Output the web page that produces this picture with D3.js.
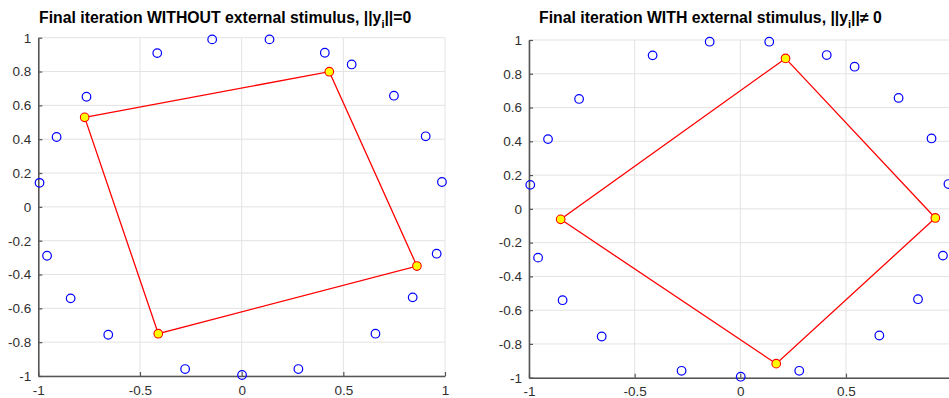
<!DOCTYPE html>
<html>
<head>
<meta charset="utf-8">
<script src="https://cdn.jsdelivr.net/npm/d3@7"></script>
<style>
  body { margin: 0; background: #fff; }
  svg { display: block; font-family: "Liberation Sans", Arial, Helvetica, sans-serif; }
</style>
</head>
<body>
<div id="chart"></div>
<script>
// oscillator positions on the unit circle (same in both panels)
const circleX = [-0.994, -0.910, -0.763, -0.415, -0.145, 0.137, 0.409, 0.541, 0.749, 0.905,
                 0.985, 0.959, 0.841, 0.658, 0.279, 0.002, -0.278, -0.656, -0.841, -0.957];
const circleY = [0.142, 0.413, 0.651, 0.909, 0.990, 0.990, 0.911, 0.842, 0.657, 0.417,
                 0.147, -0.277, -0.535, -0.750, -0.959, -0.994, -0.959, -0.756, -0.541, -0.289];

// final iteration quadrilaterals
const leftPolyX = [-0.772, 0.431, 0.862, -0.410];
const leftPolyY = [0.529, 0.799, -0.350, -0.750];
const rightPolyX = [0.214, 0.923, 0.170, -0.850];
const rightPolyY = [0.891, -0.054, -0.917, -0.062];

const xTicks = [-1, -0.5, 0, 0.5, 1];
const yTicks = [-1, -0.8, -0.6, -0.4, -0.2, 0, 0.2, 0.4, 0.6, 0.8, 1];

const W = 949, H = 398;
const svg = d3.select('#chart').append('svg').attr('width', W).attr('height', H);

const panels = [
  { x0: 38.3, x1: 445, y0: 376, y1: 37.7, titleX: 39, title: 'Final iteration WITHOUT external stimulus, ||y', tail: '||=0',
    px: leftPolyX, py: leftPolyY },
  { x0: 529, x1: 951.6, y0: 377.7, y1: 40, titleX: 539, title: 'Final iteration WITH external stimulus, ||y', tail: '||\u2260 0',
    px: rightPolyX, py: rightPolyY }
];

const fmt = d => d === 0 ? '0' : String(d);

panels.forEach(p => {
  const x = d3.scaleLinear().domain([-1, 1]).range([p.x0, p.x1]);
  const y = d3.scaleLinear().domain([-1, 1]).range([p.y0, p.y1]);
  const g = svg.append('g');

  // grid
  g.selectAll('.gx').data(xTicks).enter().append('line')
    .attr('x1', d => x(d)).attr('x2', d => x(d))
    .attr('y1', p.y0).attr('y2', p.y1)
    .attr('stroke', '#e3e3e3').attr('stroke-width', 1);
  g.selectAll('.gy').data(yTicks).enter().append('line')
    .attr('x1', p.x0).attr('x2', p.x1)
    .attr('y1', d => y(d)).attr('y2', d => y(d))
    .attr('stroke', '#e3e3e3').attr('stroke-width', 1);

  // axes with inward ticks
  const xAxis = d3.axisBottom(x).tickValues(xTicks).tickFormat(fmt).tickSizeInner(-4).tickSizeOuter(0).tickPadding(8.5);
  const yAxis = d3.axisLeft(y).tickValues(yTicks).tickFormat(fmt).tickSizeInner(-4).tickSizeOuter(0).tickPadding(7);

  const ax = g.append('g').attr('transform', 'translate(0,' + p.y0 + ')').call(xAxis);
  const ay = g.append('g').attr('transform', 'translate(' + p.x0 + ',0)').call(yAxis);
  [ax, ay].forEach(a => {
    a.select('.domain').attr('stroke', '#555').attr('stroke-width', 1.6);
    a.selectAll('.tick line').attr('stroke', '#555').attr('stroke-width', 1.2);
    a.selectAll('.tick text').attr('fill', '#303030').style('font-size', '13.5px')
      .style('font-family', '"Liberation Sans", Arial, sans-serif');
  });
  ax.selectAll('.tick text').attr('dy', '0.75em');

  // blue circles
  g.selectAll('.pt').data(circleX).enter().append('circle')
    .attr('cx', d => x(d)).attr('cy', (d, i) => y(circleY[i]))
    .attr('r', 4.3).attr('fill', 'none').attr('stroke', '#0000ff').attr('stroke-width', 1.2);

  // red quadrilateral
  const pts = p.px.map((d, i) => [x(d), y(p.py[i])]);
  g.append('path')
    .attr('d', d3.line()(pts.concat([pts[0]])))
    .attr('fill', 'none').attr('stroke', '#ff0000').attr('stroke-width', 1.3);
  g.selectAll('.vx').data(pts).enter().append('circle')
    .attr('cx', d => d[0]).attr('cy', d => d[1])
    .attr('r', 4.3).attr('fill', '#ffff00').attr('stroke', '#ff0000').attr('stroke-width', 1.1);

  // title
  const t = svg.append('text')
    .attr('x', p.titleX).attr('y', 22.5)
    .attr('font-size', '15.8px').attr('font-weight', 'bold').attr('fill', '#000');
  t.append('tspan').text(p.title);
  t.append('tspan').attr('dy', 5).attr('font-size', '11px').text('i');
  t.append('tspan').attr('dy', -5).text(p.tail);
});
</script>
</body>
</html>
